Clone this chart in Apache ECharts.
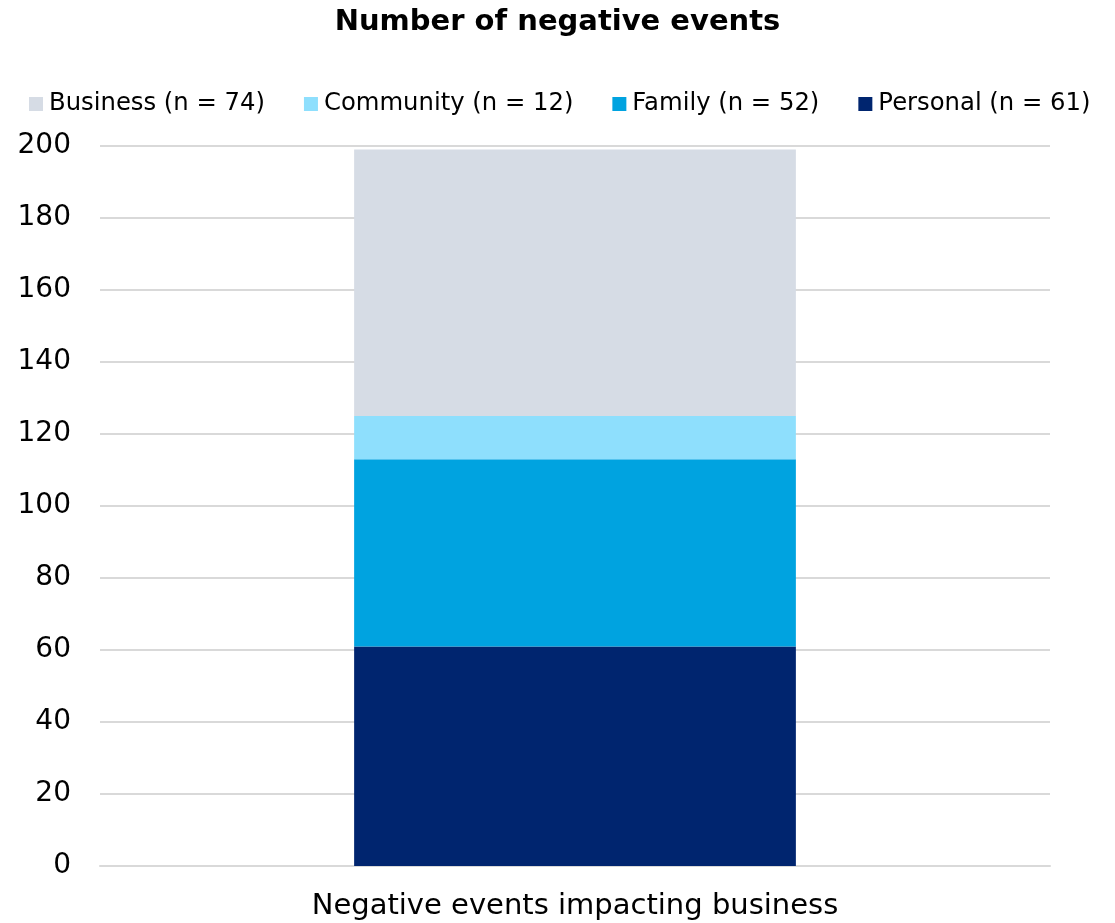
<!DOCTYPE html>
<html>
<head>
<meta charset="utf-8">
<script src="https://cdn.jsdelivr.net/npm/echarts@6/dist/echarts.min.js"></script>
<style>
  html, body { margin: 0; padding: 0; background: #fff; }
  #chart { width: 1115px; height: 923px; }
</style>
</head>
<body>
<div id="chart"></div>
<script>
// Stacked counts of negative events by source
const categories = ['Negative events impacting business'];
const seriesNames = ['Business (n = 74)', 'Community (n = 12)', 'Family (n = 52)', 'Personal (n = 61)'];
const personal = [61];
const family = [52];
const community = [12];
const business = [74];
const colors = {
  personal: '#00256F',
  family: '#00A3E0',
  community: '#8EDFFD',
  business: '#D6DCE5'
};

const font = 'DejaVu Sans, Verdana, sans-serif';
const chart = echarts.init(document.getElementById('chart'), null, { renderer: 'canvas' });

function bar(name, data, color) {
  return {
    name: name,
    type: 'bar',
    stack: 'total',
    data: data,
    barWidth: '46.5%',
    itemStyle: { color: color },
    emphasis: { disabled: true }
  };
}

chart.setOption({
  animation: false,
  backgroundColor: '#ffffff',
  title: {
    text: 'Number of negative events',
    left: 'center',
    top: 3,
    textStyle: { fontFamily: font, fontSize: 29, fontWeight: 'bold', color: '#000' }
  },
  legend: {
    data: seriesNames,
    left: 24,
    top: 87,
    icon: 'rect',
    itemWidth: 14,
    itemHeight: 14,
    itemGap: 39,
    textStyle: { fontFamily: font, fontSize: 24.3, color: '#000', padding: [0, 0, 0, 1] }
  },
  grid: { left: 100, right: 65, top: 146, bottom: 57 },
  xAxis: {
    type: 'category',
    data: categories,
    axisLine: { show: true, lineStyle: { color: '#D9D9D9', width: 2 } },
    axisTick: { show: false },
    axisLabel: { fontFamily: font, fontSize: 29, color: '#000', margin: 26 }
  },
  yAxis: {
    type: 'value',
    min: 0,
    max: 200,
    interval: 20,
    axisLine: { show: false },
    axisTick: { show: false },
    splitLine: { lineStyle: { color: '#D9D9D9', width: 2 } },
    axisLabel: { fontFamily: font, fontSize: 28, color: '#000', margin: 29 }
  },
  series: [
    bar(seriesNames[3], personal, colors.personal),
    bar(seriesNames[2], family, colors.family),
    bar(seriesNames[1], community, colors.community),
    bar(seriesNames[0], business, colors.business)
  ]
});
</script>
</body>
</html>
